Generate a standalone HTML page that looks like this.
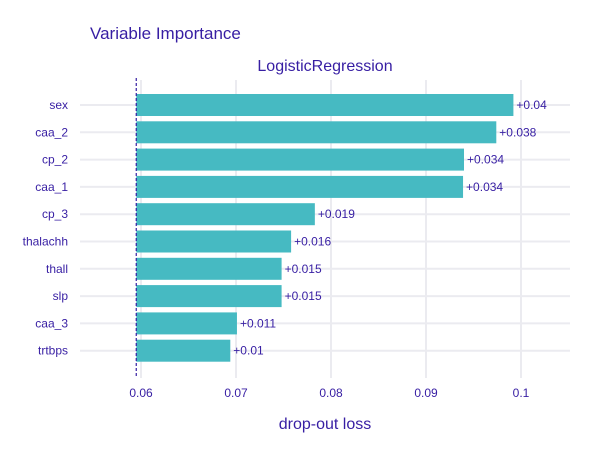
<!DOCTYPE html>
<html><head><meta charset="utf-8"><style>
body{margin:0;background:#fff;}
svg{font-family:"Liberation Sans",sans-serif;}
</style></head><body>
<svg id="chart" width="600" height="450">
<text x="90" y="39" font-size="17" fill="#371ea3">Variable Importance</text>
<text x="325" y="71" font-size="16" fill="#371ea3" text-anchor="middle">LogisticRegression</text>
<text x="325" y="429" font-size="16" fill="#371ea3" text-anchor="middle">drop-out loss</text>
<g id="grid"></g><g id="bars"></g><g id="labels"></g>
</svg>
<script>
const categories=["sex","caa_2","cp_2","caa_1","cp_3","thalachh","thall","slp","caa_3","trtbps"];
const dropoutLoss=[0.0992,0.0974,0.0940,0.0939,0.0783,0.0758,0.0748,0.0748,0.0701,0.0694];
const changeLabels=["+0.04","+0.038","+0.034","+0.034","+0.019","+0.016","+0.015","+0.015","+0.011","+0.01"];
const baseline=0.0595;
const xTicks=[0.06,0.07,0.08,0.09,0.1];
const xTickLabels=["0.06","0.07","0.08","0.09","0.1"];
const NS="http://www.w3.org/2000/svg";
const x=v=>141+(v-0.06)*9500;
const y=i=>105+i*27.3;
function mk(t,a,p){const e=document.createElementNS(NS,t);for(const k in a)e.setAttribute(k,a[k]);p.appendChild(e);return e;}
const g=document.getElementById('grid'),b=document.getElementById('bars'),l=document.getElementById('labels');
xTicks.forEach((v,i)=>{
 const ln=mk('line',{x1:x(v),x2:x(v),y1:80,y2:378,stroke:'#ebebf0','stroke-width':2},g);
 
 
 const t=mk('text',{x:x(v),y:397,'font-size':12,fill:'#371ea3','text-anchor':'middle'},l);
 t.textContent=xTickLabels[i];
 
 
});
categories.forEach((c,i)=>{
 const ln=mk('line',{x1:80,x2:570,y1:y(i),y2:y(i),stroke:'#ebebf0','stroke-width':2},g);
 
 
 const r=mk('rect',{x:x(baseline),y:y(i)-11,width:x(dropoutLoss[i])-x(baseline),height:22,fill:'#46bac2'},b);
 
 
 const t=mk('text',{x:x(dropoutLoss[i])+3,y:y(i)+4,'font-size':12,fill:'#371ea3'},l);
 t.textContent=changeLabels[i];
 
 
 const yl=mk('text',{x:68,y:y(i)+4,'font-size':12,fill:'#371ea3','text-anchor':'end'},l);
 yl.textContent=c;
 
 
});
const bl=mk('line',{x1:x(baseline),x2:x(baseline),y1:78,y2:378,stroke:'#371ea3','stroke-width':1.2,'stroke-dasharray':'3,2'},l);


</script>
</body></html>
